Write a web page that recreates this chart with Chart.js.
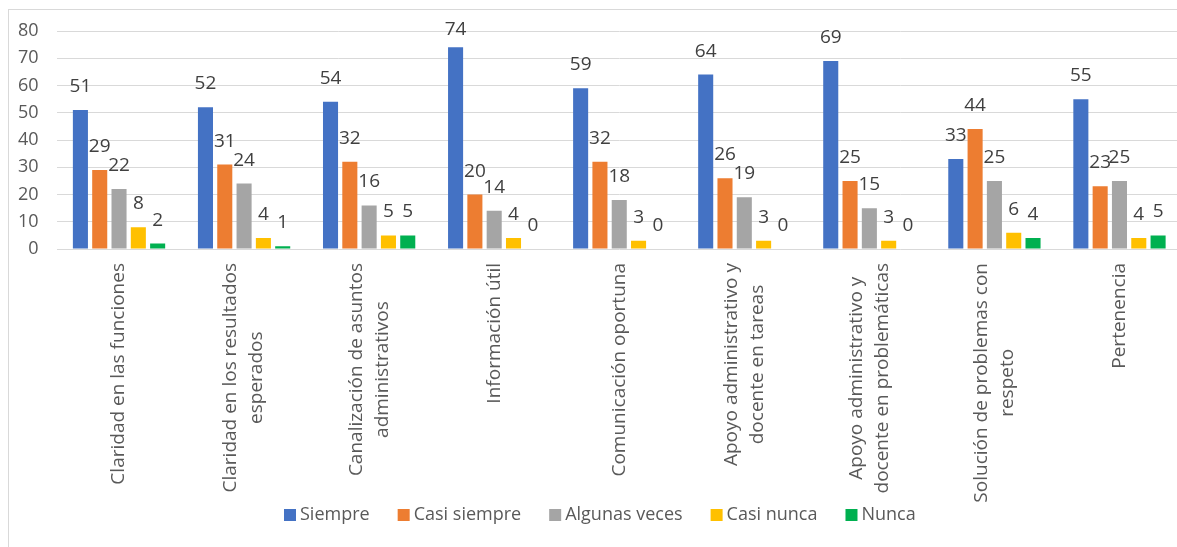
<!DOCTYPE html>
<html>
<head>
<meta charset="utf-8">
<script src="https://cdn.jsdelivr.net/npm/chart.js@4"></script>
<style>
    html, body { margin: 0; padding: 0; background: #fff; overflow: hidden; }
    #wrap { position: relative; width: 1177px; height: 547px; overflow: hidden; }
    #frame { position: absolute; left: 8px; top: 9px; width: 1200px; height: 600px;
             border-left: 1px solid #d9d9d9; border-top: 1px solid #d9d9d9; }
    #box { position: absolute; left: 0; top: 0; width: 1182px; height: 547px; }
</style>
</head>
<body>
<div id="wrap">
    <div id="frame"></div>
    <div id="box"><canvas id="chart"></canvas></div>
</div>
<script>
// categories (line breaks as in the original)
const categories = [
    ['Claridad en las funciones'],
    ['Claridad en los resultados', 'esperados'],
    ['Canalización de asuntos', 'administrativos'],
    ['Información útil'],
    ['Comunicación oportuna'],
    ['Apoyo administrativo y', 'docente en tareas'],
    ['Apoyo administrativo y', 'docente en problemáticas'],
    ['Solución de problemas con', 'respeto'],
    ['Pertenencia']
];

const seriesNames = ['Siempre', 'Casi siempre', 'Algunas veces', 'Casi nunca', 'Nunca'];
const seriesColors = ['#4472C4', '#ED7D31', '#A5A5A5', '#FFC000', '#00B050'];

const siempre = [51, 52, 54, 74, 59, 64, 69, 33, 55];
const casiSiempre = [29, 31, 32, 20, 32, 26, 25, 44, 23];
const algunasVeces = [22, 24, 16, 14, 18, 19, 15, 25, 25];
const casiNunca = [8, 4, 5, 4, 3, 3, 3, 6, 4];
const nunca = [2, 1, 5, 0, 0, 0, 0, 4, 5];

const yTicks = [0, 10, 20, 30, 40, 50, 60, 70, 80];

const FONT = '"Open Sans", sans-serif';
const series = [siempre, casiSiempre, algunasVeces, casiNunca, nunca];

// value labels above each bar (kept inside the chart at the top)
const valueLabels = {
    id: 'valueLabels',
    afterDatasetsDraw(chart) {
        const ctx = chart.ctx;
        ctx.save();
        ctx.font = '19px ' + FONT;
        ctx.fillStyle = '#404040';
        ctx.textAlign = 'center';
        ctx.textBaseline = 'alphabetic';
        chart.data.datasets.forEach((ds, i) => {
            chart.getDatasetMeta(i).data.forEach((bar, j) => {
                const y = Math.max(bar.y - 18, 35);
                ctx.fillText(String(ds.data[j]), bar.x, y);
            });
        });
        ctx.restore();
    }
};

// rotated category labels, lines centred on each other
const categoryLabels = {
    id: 'categoryLabels',
    afterDraw(chart) {
        const ctx = chart.ctx;
        const xs = chart.scales.x;
        const top = chart.chartArea.bottom + 14;
        const lineGap = 26;
        ctx.save();
        ctx.font = '19px ' + FONT;
        ctx.fillStyle = '#595959';
        ctx.textAlign = 'center';
        ctx.textBaseline = 'middle';
        categories.forEach((lines, i) => {
            const cx = xs.getPixelForValue(i);
            const maxW = Math.max(...lines.map(l => ctx.measureText(l).width));
            const cy = top + maxW / 2;
            lines.forEach((line, k) => {
                const off = (k - (lines.length - 1) / 2) * lineGap;
                ctx.save();
                ctx.translate(cx + off, cy);
                ctx.rotate(-Math.PI / 2);
                ctx.fillText(line, 0, 0);
                ctx.restore();
            });
        });
        ctx.restore();
    }
};

// legend row at the bottom
const bottomLegend = {
    id: 'bottomLegend',
    afterDraw(chart) {
        const ctx = chart.ctx;
        const y = 515;
        let x = 284;
        ctx.save();
        ctx.font = '18px ' + FONT;
        ctx.textBaseline = 'middle';
        ctx.textAlign = 'left';
        chart.data.datasets.forEach(ds => {
            ctx.fillStyle = ds.backgroundColor;
            ctx.fillRect(x, y - 6, 12, 12);
            ctx.fillStyle = '#595959';
            ctx.fillText(ds.label, x + 16, y);
            x += 16 + ctx.measureText(ds.label).width + 28;
        });
        ctx.restore();
    }
};

new Chart(document.getElementById('chart'), {
    type: 'bar',
    data: {
        labels: categories,
        datasets: seriesNames.map((name, i) => ({
            label: name,
            data: series[i],
            backgroundColor: seriesColors[i],
            categoryPercentage: 0.772,
            barPercentage: 0.78
        }))
    },
    options: {
        responsive: true,
        maintainAspectRatio: false,
        animation: false,
        layout: { padding: { top: 31, left: 0, right: 0, bottom: 0 } },
        plugins: {
            legend: { display: false },
            tooltip: { enabled: false }
        },
        scales: {
            x: {
                grid: { display: false },
                border: { display: false },
                ticks: { display: false },
                afterFit(scale) { scale.height = 547 - 31 - 218; }
            },
            y: {
                min: 0,
                max: 80,
                afterBuildTicks(scale) { scale.ticks = yTicks.map(v => ({ value: v })); },
                grid: { color: '#d9d9d9', lineWidth: 1, drawTicks: false },
                border: { display: false },
                ticks: { font: { family: FONT, size: 18 }, color: '#595959', padding: 18 },
                afterFit(scale) { scale.width = 56.5; }
            }
        }
    },
    plugins: [valueLabels, categoryLabels, bottomLegend]
});
</script>
</body>
</html>
